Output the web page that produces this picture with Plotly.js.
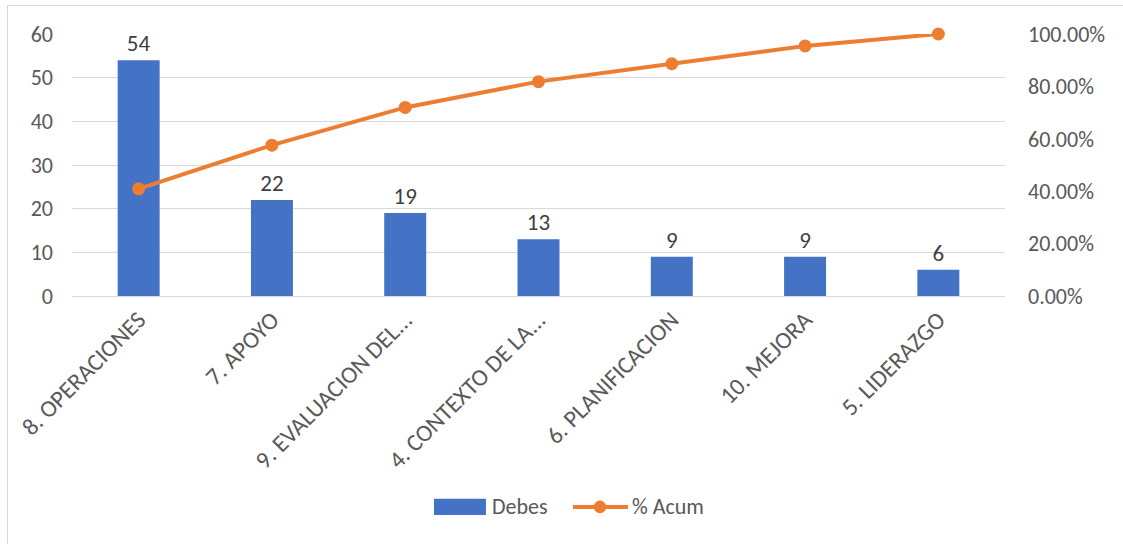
<!DOCTYPE html>
<html>
<head>
<meta charset="utf-8">
<script src="https://cdn.plot.ly/plotly-3.0.1.min.js"></script>
<style>
  html, body { margin: 0; padding: 0; background: #fff; }
  #chart { width: 1123px; height: 544px; }
  #frame {
    position: absolute; left: 7px; top: 5px; width: 1130px; height: 560px;
    border: 1.5px solid #d9d9d9; pointer-events: none; box-sizing: border-box;
  }
</style>
</head>
<body>
<div id="chart"></div>
<div id="frame"></div>
<script>
// Pareto of findings by clause
const categories = [
  "8. OPERACIONES",
  "7. APOYO",
  "9. EVALUACION DEL...",
  "4. CONTEXTO DE LA...",
  "6. PLANIFICACION",
  "10. MEJORA",
  "5. LIDERAZGO"
];
const debes = [54, 22, 19, 13, 9, 9, 6];
const acumPct = [40.91, 57.58, 71.97, 81.82, 88.64, 95.45, 100.00];

const seriesNames = ["Debes", "% Acum"];
const barColor = "#4472c4";
const lineColor = "#ed7d31";
const textColor = "#595959";
const fontFamily = "Carlito, Calibri, 'Liberation Sans', Arial, sans-serif";
const fontSize = 22;

const bars = {
  type: "bar",
  name: seriesNames[0],
  x: categories,
  y: debes,
  width: 0.315,
  marker: { color: barColor },
  text: debes.map(String),
  textposition: "outside",
  cliponaxis: false,
  textfont: { size: fontSize + 1, color: "#404040", family: fontFamily },
  showlegend: false
};

const line = {
  type: "scatter",
  mode: "lines+markers",
  name: seriesNames[1],
  x: categories,
  y: acumPct,
  yaxis: "y2",
  line: { color: lineColor, width: 4 },
  marker: { color: lineColor, size: 13 },
  cliponaxis: false,
  showlegend: false
};

// Legend below the plot, drawn with paper-referenced shapes and text
const legendY = -0.805;
const legendShapes = [
  { type: "rect", xref: "paper", yref: "paper",
    x0: 0.388, x1: 0.4437, y0: legendY - 0.031, y1: legendY + 0.031,
    fillcolor: barColor, line: { width: 0 } },
  { type: "line", xref: "paper", yref: "paper",
    x0: 0.537, x1: 0.5959, y0: legendY, y1: legendY,
    line: { color: lineColor, width: 4 } },
  { type: "circle", xref: "paper", yref: "paper",
    x0: 0.5659 - 0.0067, x1: 0.5659 + 0.0067,
    y0: legendY - 0.024, y1: legendY + 0.024,
    fillcolor: lineColor, line: { width: 0 } }
];
const legendLabels = [
  { xref: "paper", yref: "paper", x: 0.4485, y: legendY, xanchor: "left", yanchor: "middle",
    text: seriesNames[0], showarrow: false, font: { size: fontSize, color: textColor } },
  { xref: "paper", yref: "paper", x: 0.5985, y: legendY, xanchor: "left", yanchor: "middle",
    text: seriesNames[1], showarrow: false, font: { size: fontSize, color: textColor } }
];

const layout = {
  width: 1123,
  height: 544,
  margin: { l: 72, r: 118, t: 34, b: 248 },
  paper_bgcolor: "#ffffff",
  plot_bgcolor: "#ffffff",
  font: { family: fontFamily, color: textColor, size: fontSize },
  showlegend: false,
  shapes: legendShapes,
  annotations: legendLabels,
  xaxis: {
    type: "category",
    tickangle: -45,
    tickfont: { size: 24, color: textColor },
    showgrid: false,
    showline: false,
    ticks: "",
    zeroline: false,
    ticklabelstandoff: 4
  },
  yaxis: {
    range: [0, 60],
    dtick: 10,
    tickfont: { size: fontSize, color: textColor },
    showgrid: true,
    gridcolor: "#d9d9d9",
    gridwidth: 1,
    zeroline: true,
    zerolinecolor: "#d9d9d9",
    showline: false,
    ticks: "",
    ticklabelstandoff: 18
  },
  yaxis2: {
    overlaying: "y",
    side: "right",
    range: [0, 100],
    dtick: 20,
    tickformat: ".2f",
    ticksuffix: "%",
    tickfont: { size: fontSize, color: textColor },
    showgrid: false,
    zeroline: false,
    showline: false,
    ticks: "",
    ticklabelstandoff: 22
  }
};

Plotly.newPlot("chart", [bars, line], layout, { displayModeBar: false, staticPlot: true });
</script>
</body>
</html>
